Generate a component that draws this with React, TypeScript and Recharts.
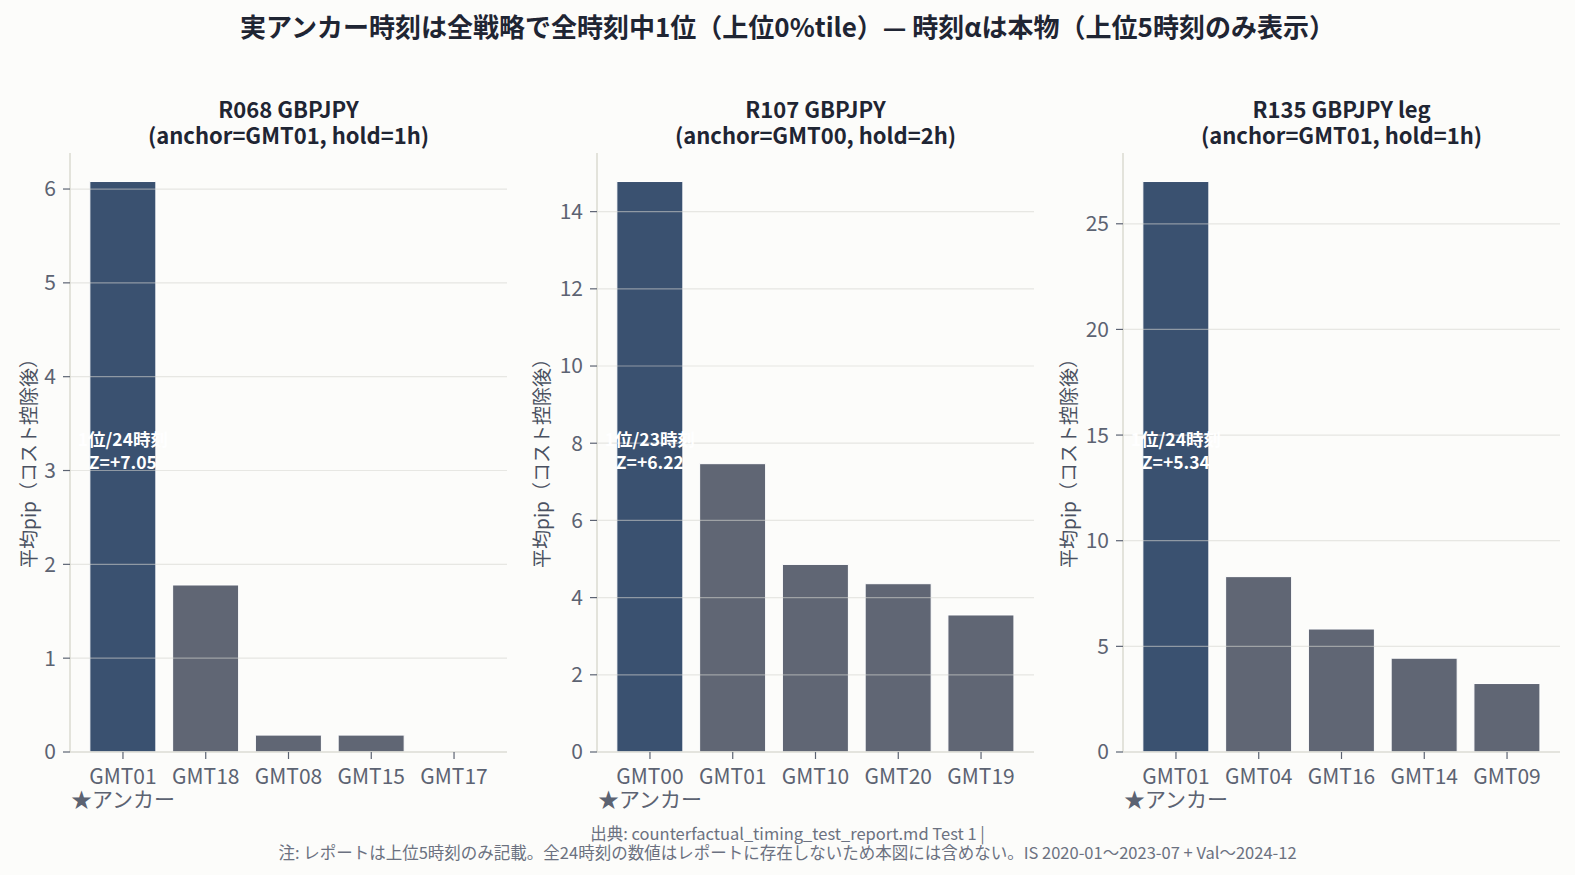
import { Bar, BarChart, Cell, ReferenceLine, XAxis, YAxis } from 'recharts'

const FONT = '"Noto Sans CJK JP", "Noto Sans", sans-serif'
const BG = '#fcfcfa'
const ANCHOR = '#3a5170'
const OTHER = '#606674'
const SPINE = '#dcdcd4'
const TICK = '#5c6372'
const GRID = '#d6d6d0'
const TITLE = '#1f2533'

// panel 1: R068
const r068Hours = ['GMT01', 'GMT18', 'GMT08', 'GMT15', 'GMT17']
const r068Pips = [6.08, 1.78, 0.18, 0.18, 0]
const r068Ticks = [0, 1, 2, 3, 4, 5, 6]

// panel 2: R107
const r107Hours = ['GMT00', 'GMT01', 'GMT10', 'GMT20', 'GMT19']
const r107Pips = [14.78, 7.47, 4.86, 4.36, 3.55]
const r107Ticks = [0, 2, 4, 6, 8, 10, 12, 14]

// panel 3: R135
const r135Hours = ['GMT01', 'GMT04', 'GMT16', 'GMT14', 'GMT09']
const r135Pips = [27.0, 8.3, 5.82, 4.44, 3.24]
const r135Ticks = [0, 5, 10, 15, 20, 25]

const PLOT_TOP = 153
const PLOT_H = 599
const AXIS_W = 70
const M_TOP = 2
const X_H = 70

interface PanelDef {
  title: string
  sub: string
  hours: string[]
  pips: number[]
  ticks: number[]
  rank: string
  z: string
  plotLeft: number
  plotW: number
  labelDist: number
}

const panels: PanelDef[] = [
  {
    title: 'R068 GBPJPY',
    sub: '(anchor=GMT01, hold=1h)',
    hours: r068Hours,
    pips: r068Pips,
    ticks: r068Ticks,
    rank: '1位/24時刻',
    z: 'Z=+7.05',
    plotLeft: 70,
    plotW: 437,
    labelDist: 43,
  },
  {
    title: 'R107 GBPJPY',
    sub: '(anchor=GMT00, hold=2h)',
    hours: r107Hours,
    pips: r107Pips,
    ticks: r107Ticks,
    rank: '1位/23時刻',
    z: 'Z=+6.22',
    plotLeft: 597,
    plotW: 437,
    labelDist: 57,
  },
  {
    title: 'R135 GBPJPY leg',
    sub: '(anchor=GMT01, hold=1h)',
    hours: r135Hours,
    pips: r135Pips,
    ticks: r135Ticks,
    rank: '1位/24時刻',
    z: 'Z=+5.34',
    plotLeft: 1123,
    plotW: 437,
    labelDist: 56,
  },
]

function XTick(props: any) {
  const { x, y, payload, index } = props
  return (
    <g transform={`translate(${x},${y})`}>
      <text textAnchor="middle" y={25} fill={TICK} fontSize={21} fontFamily={FONT}>
        {payload.value}
      </text>
      {index === 0 && (
        <text textAnchor="middle" y={48} fill={TICK} fontSize={21} fontFamily={FONT}>
          ★アンカー
        </text>
      )}
    </g>
  )
}

function YLabel(props: any) {
  const { viewBox, dist } = props
  const cx = viewBox.x + viewBox.width - dist
  const cy = viewBox.y + viewBox.height / 2 + 6
  return (
    <text
      x={cx}
      y={cy}
      transform={`rotate(-90 ${cx} ${cy})`}
      textAnchor="middle"
      dominantBaseline="central"
      fill="#4a5161"
      fontSize={19}
      fontFamily={FONT}
    >
      平均pip（コスト控除後）
    </text>
  )
}

function Panel({ p }: { p: PanelDef }) {
  const data = p.hours.map((h, i) => ({ hour: h, pip: p.pips[i] }))
  const max = Math.max(...p.pips) * 1.05
  const pad = p.plotW * 0.0265
  const centerY = M_TOP + PLOT_H / 2 - 3
  const anno = (lp: any) => {
    if (lp.index !== 0) return null
    const cx = lp.x + lp.width / 2
    return (
      <g>
        <text x={cx} y={centerY - 11.5} textAnchor="middle" dominantBaseline="central" fill="#ffffff" fontSize={17.5} fontWeight={700} fontFamily={FONT}>
          {p.rank}
        </text>
        <text x={cx} y={centerY + 11.5} textAnchor="middle" dominantBaseline="central" fill="#ffffff" fontSize={17.5} fontWeight={700} fontFamily={FONT}>
          {p.z}
        </text>
      </g>
    )
  }
  return (
    <>
      <div
        style={{
          position: 'absolute',
          left: p.plotLeft,
          width: p.plotW,
          top: 94.5,
          textAlign: 'center',
          fontFamily: FONT,
          fontWeight: 700,
          fontSize: 22,
          lineHeight: '26px',
          color: TITLE,
        }}
      >
        {p.title}
        <br />
        {p.sub}
      </div>
      <div style={{ position: 'absolute', left: p.plotLeft - AXIS_W, top: PLOT_TOP - M_TOP }}>
        <BarChart
          width={AXIS_W + p.plotW}
          height={M_TOP + PLOT_H + X_H}
          data={data}
          margin={{ top: M_TOP, right: 0, bottom: 0, left: 0 }}
          barCategoryGap="10%"
        >
          <XAxis
            dataKey="hour"
            height={X_H}
            interval={0}
            padding={{ left: pad, right: pad }}
            axisLine={{ stroke: SPINE, strokeWidth: 1.6 }}
            tickLine={{ stroke: TICK, strokeWidth: 1.2 }}
            tickSize={7}
            tickMargin={0}
            tick={<XTick />}
          />
          <YAxis
            width={AXIS_W}
            domain={[0, max]}
            ticks={p.ticks}
            allowDataOverflow
            axisLine={{ stroke: SPINE, strokeWidth: 1.6 }}
            tickLine={{ stroke: TICK, strokeWidth: 1.2 }}
            tickSize={7}
            tickMargin={7}
            tick={{ fill: TICK, fontSize: 21, fontFamily: FONT }}
            label={<YLabel dist={p.labelDist} />}
          />
          <Bar dataKey="pip" stroke="#ffffff" strokeWidth={1} isAnimationActive={false} label={anno}>
            {data.map((d, i) => (
              <Cell key={d.hour} fill={i === 0 ? ANCHOR : OTHER} />
            ))}
          </Bar>
          {p.ticks
            .filter((t) => t > 0)
            .map((t) => (
              <ReferenceLine key={t} y={t} stroke={GRID} strokeOpacity={0.55} strokeWidth={1.2} />
            ))}
        </BarChart>
      </div>
    </>
  )
}

export default function App() {
  return (
    <div
      style={{
        position: 'absolute',
        left: 0,
        top: 0,
        width: 1575,
        height: 875,
        background: BG,
        fontFamily: FONT,
        overflow: 'hidden',
      }}
    >
      <div
        style={{
          position: 'absolute',
          left: 0,
          width: 1575,
          top: 10,
          textAlign: 'center',
          fontWeight: 700,
          fontSize: 26,
          lineHeight: '32px',
          color: TITLE,
        }}
      >
        実アンカー時刻は全戦略で全時刻中1位（上位0%tile）— 時刻αは本物（上位5時刻のみ表示）
      </div>
      {panels.map((p) => (
        <Panel key={p.title} p={p} />
      ))}
      <div
        style={{
          position: 'absolute',
          left: 0,
          width: 1575,
          top: 823.5,
          textAlign: 'center',
          fontSize: 16.5,
          lineHeight: '19px',
          color: '#6b7180',
        }}
      >
        出典: counterfactual_timing_test_report.md Test 1 |
        <br />
        注: レポートは上位5時刻のみ記載。全24時刻の数値はレポートに存在しないため本図には含めない。IS 2020-01〜2023-07 + Val〜2024-12
      </div>
    </div>
  )
}
